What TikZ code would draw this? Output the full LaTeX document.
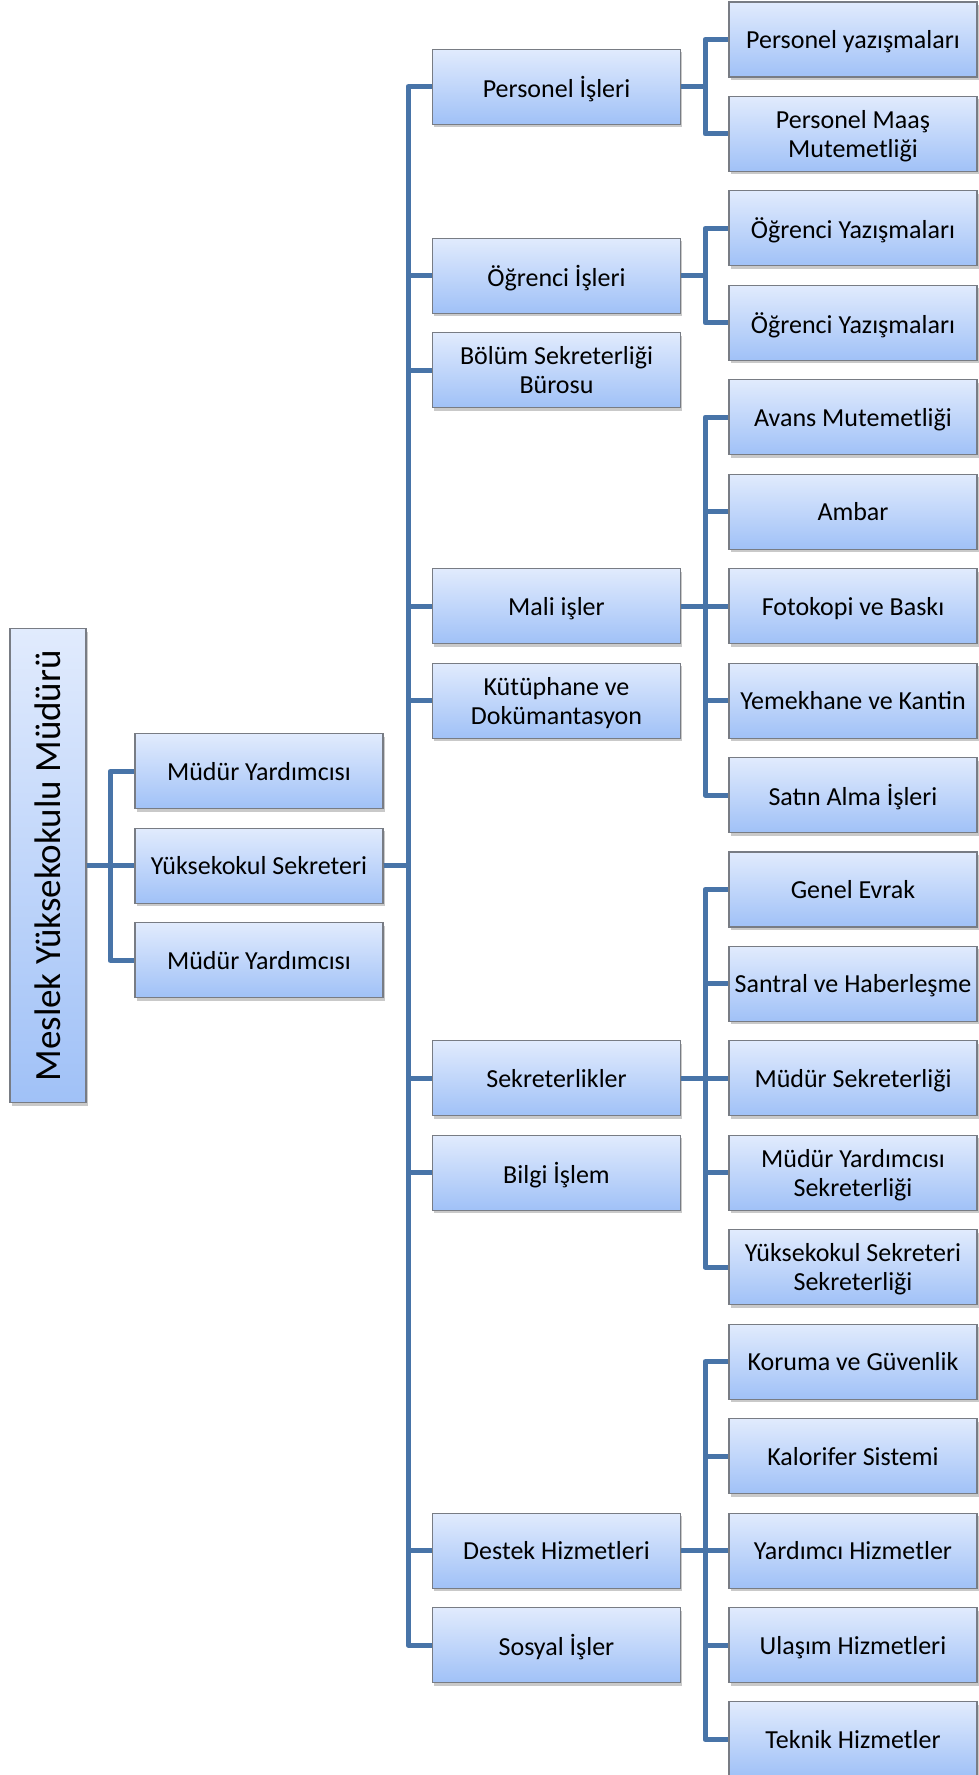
\documentclass[tikz,border=0pt]{standalone}
\usepackage{fontspec}
\setmainfont{Carlito}
\usetikzlibrary{shadows}
\definecolor{boxtop}{RGB}{225,235,253}
\definecolor{boxbot}{RGB}{160,193,247}
\definecolor{boxline}{RGB}{120,124,132}
\definecolor{linkblue}{RGB}{72,116,168}
\newcommand{\Row}[1]{\fpeval{39.5+94.44*#1}}
\newcommand{\ColA}{259}
\newcommand{\ColB}{556.5}
\newcommand{\ColC}{853}
\newcommand{\Unit}[4]{
	\node[unit] (#1) at (#2,\Row{#3}) {#4};
}
\newcommand{\Link}[3]{
	\draw[link] (#1.east) -- (#2) |- (#3.west);
}
\tikzset{
	unit/.style={draw=boxline, line width=1.1pt, top color=boxtop, bottom color=boxbot,
		minimum width=248pt, minimum height=75pt, inner sep=2pt, align=center,
		text depth=0pt, font=\fontsize{26}{29}\selectfont,
		drop shadow={shadow xshift=1.5pt, shadow yshift=-3pt, opacity=.3, fill=black!70}},
	link/.style={draw=linkblue, line width=5pt, line join=round}
}

\begin{document}
\begin{tikzpicture}[x=1pt,y=-1pt]
	\useasboundingbox (0,0) rectangle (979,1775);
	\node[unit, minimum width=76pt, minimum height=474pt, inner sep=0pt] (M) at (48,\Row{8.75})
		{\rotatebox{90}{\fontsize{37}{40}\selectfont Meslek Yüksekokulu Müdürü}};
	\Unit{Y1}{\ColA}{7.75}{Müdür Yardımcısı}
	\Unit{YS}{\ColA}{8.75}{Yüksekokul Sekreteri}
	\Unit{Y2}{\ColA}{9.75}{Müdür Yardımcısı}
	\Unit{P}{\ColB}{0.5}{Personel İşleri}
	\Unit{O}{\ColB}{2.5}{Öğrenci İşleri}
	\Unit{B}{\ColB}{3.5}{Bölüm Sekreterliği\\Bürosu}
	\Unit{F}{\ColB}{6}{Mali işler}
	\Unit{K}{\ColB}{7}{Kütüphane ve\\Dokümantasyon}
	\Unit{S}{\ColB}{11}{Sekreterlikler}
	\Unit{I}{\ColB}{12}{Bilgi İşlem}
	\Unit{D}{\ColB}{16}{Destek Hizmetleri}
	\Unit{SO}{\ColB}{17}{Sosyal İşler}
	\Unit{P1}{\ColC}{0}{Personel yazışmaları}
	\Unit{P2}{\ColC}{1}{Personel Maaş\\Mutemetliği}
	\Unit{O1}{\ColC}{2}{Öğrenci Yazışmaları}
	\Unit{O2}{\ColC}{3}{Öğrenci Yazışmaları}
	\Unit{F1}{\ColC}{4}{Avans Mutemetliği}
	\Unit{F2}{\ColC}{5}{Ambar}
	\Unit{F3}{\ColC}{6}{Fotokopi ve Baskı}
	\Unit{F4}{\ColC}{7}{Yemekhane ve Kantin}
	\Unit{F5}{\ColC}{8}{Satın Alma İşleri}
	\Unit{S1}{\ColC}{9}{Genel Evrak}
	\Unit{S2}{\ColC}{10}{Santral ve Haberleşme}
	\Unit{S3}{\ColC}{11}{Müdür Sekreterliği}
	\Unit{S4}{\ColC}{12}{Müdür Yardımcısı\\Sekreterliği}
	\Unit{S5}{\ColC}{13}{Yüksekokul Sekreteri\\Sekreterliği}
	\Unit{D1}{\ColC}{14}{Koruma ve Güvenlik}
	\Unit{D2}{\ColC}{15}{Kalorifer Sistemi}
	\Unit{D3}{\ColC}{16}{Yardımcı Hizmetler}
	\Unit{D4}{\ColC}{17}{Ulaşım Hizmetleri}
	\Unit{D5}{\ColC}{18}{Teknik Hizmetler}
	% joints
	\coordinate (JM) at (110,\Row{8.75});
	\coordinate (JY) at (408,\Row{8.75});
	\coordinate (JP) at (705,\Row{0.5});
	\coordinate (JO) at (705,\Row{2.5});
	\coordinate (JF) at (705,\Row{6});
	\coordinate (JS) at (705,\Row{11});
	\coordinate (JD) at (705,\Row{16});
	\Link{M}{JM}{Y1}
	\Link{M}{JM}{YS}
	\Link{M}{JM}{Y2}
	\Link{YS}{JY}{P}
	\Link{YS}{JY}{O}
	\Link{YS}{JY}{B}
	\Link{YS}{JY}{F}
	\Link{YS}{JY}{K}
	\Link{YS}{JY}{S}
	\Link{YS}{JY}{I}
	\Link{YS}{JY}{D}
	\Link{YS}{JY}{SO}
	\Link{P}{JP}{P1}
	\Link{P}{JP}{P2}
	\Link{O}{JO}{O1}
	\Link{O}{JO}{O2}
	\Link{F}{JF}{F1}
	\Link{F}{JF}{F2}
	\Link{F}{JF}{F3}
	\Link{F}{JF}{F4}
	\Link{F}{JF}{F5}
	\Link{S}{JS}{S1}
	\Link{S}{JS}{S2}
	\Link{S}{JS}{S3}
	\Link{S}{JS}{S4}
	\Link{S}{JS}{S5}
	\Link{D}{JD}{D1}
	\Link{D}{JD}{D2}
	\Link{D}{JD}{D3}
	\Link{D}{JD}{D4}
	\Link{D}{JD}{D5}
\end{tikzpicture}
\end{document}
